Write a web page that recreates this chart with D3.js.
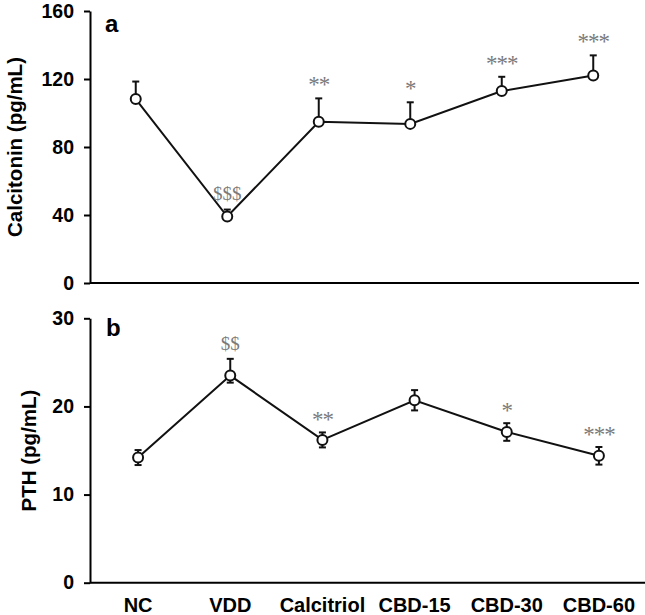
<!DOCTYPE html>
<html>
<head>
<meta charset="utf-8">
<script src="https://cdn.jsdelivr.net/npm/d3@7"></script>
<style>
  html, body { margin: 0; padding: 0; background: #fff; }
  svg { display: block; }
</style>
</head>
<body>
<svg id="chart" width="645" height="615"></svg>
<script>
// ---- data ----
const categories = ["NC", "VDD", "Calcitriol", "CBD-15", "CBD-30", "CBD-60"];

const calcitonin = [108.2, 39.1, 94.8, 93.6, 112.9, 122.0];
const calcitoninErrUp = [10.3, 4.1, 13.8, 12.7, 8.4, 11.9];
const calcitoninErrDown = [0, 0, 0, 0, 0, 0];
const calcitoninSig = ["", "$$$", "**", "*", "***", "***"];
const calcitoninTicks = [0, 40, 80, 120, 160];

const pth = [14.2, 23.5, 16.2, 20.7, 17.1, 14.4];
const pthErrUp = [0.85, 1.9, 0.85, 1.15, 1.0, 1.0];
const pthErrDown = [0.85, 0.8, 0.85, 1.15, 1.0, 1.0];
const pthSig = ["", "$$", "**", "", "*", "***"];
const pthTicks = [0, 10, 20, 30];

// ---- drawing ----
const svg = d3.select("#chart");
const SANS = "'Liberation Sans', Arial, Helvetica, sans-serif";
const SERIF = "'Liberation Serif', 'Times New Roman', serif";

function panel(cfg) {
  const g = svg.append("g");
  const x = d3.scalePoint().domain(categories).range(cfg.xRange).padding(0.5);
  const y = d3.scaleLinear().domain([0, d3.max(cfg.ticks)]).range(cfg.yRange);

  // y axis
  const yAxis = d3.axisLeft(y).tickValues(cfg.ticks).tickSizeOuter(0).tickSizeInner(6).tickPadding(10);
  const ya = g.append("g").attr("transform", `translate(${cfg.axisX},0)`).call(yAxis);
  ya.select(".domain").attr("stroke", "#000").attr("stroke-width", 2);
  ya.selectAll(".tick line").attr("stroke", "#000").attr("stroke-width", 2);
  ya.selectAll(".tick text")
    .attr("font-family", SANS).attr("font-size", 19.5).attr("font-weight", "bold").attr("fill", "#000");

  // x axis line (no ticks)
  const xa = g.append("g").attr("transform", `translate(0,${y(0)})`)
    .call(d3.axisBottom(x).tickSize(0).tickFormat(""));
  xa.select(".domain").attr("d", `M${cfg.axisX},0H${cfg.axisEnd}`)
    .attr("stroke", "#000").attr("stroke-width", 2);

  // category labels
  if (cfg.showCategories) {
    g.selectAll("text.cat").data(categories).join("text")
      .attr("class", "cat")
      .attr("x", d => x(d)).attr("y", 612)
      .attr("text-anchor", "middle")
      .attr("font-family", SANS).attr("font-size", 20).attr("font-weight", "bold")
      .text(d => d);
  }

  const data = categories.map((c, i) => ({
    c, v: cfg.values[i], up: cfg.errUp[i], down: cfg.errDown[i], sig: cfg.sig[i]
  }));

  // error bars
  const eb = g.selectAll("g.eb").data(data).join("g").attr("class", "eb");
  eb.append("line")
    .attr("x1", d => x(d.c)).attr("x2", d => x(d.c))
    .attr("y1", d => y(d.v - d.down)).attr("y2", d => y(d.v + d.up))
    .attr("stroke", "#111").attr("stroke-width", 2);
  eb.append("line")
    .attr("x1", d => x(d.c) - 3.5).attr("x2", d => x(d.c) + 3.5)
    .attr("y1", d => y(d.v + d.up)).attr("y2", d => y(d.v + d.up))
    .attr("stroke", "#111").attr("stroke-width", 2);
  eb.filter(d => d.down > 0).append("line")
    .attr("x1", d => x(d.c) - 3.5).attr("x2", d => x(d.c) + 3.5)
    .attr("y1", d => y(d.v - d.down)).attr("y2", d => y(d.v - d.down))
    .attr("stroke", "#111").attr("stroke-width", 2);

  // line
  g.append("path").datum(data)
    .attr("d", d3.line().x(d => x(d.c)).y(d => y(d.v)))
    .attr("fill", "none").attr("stroke", "#111").attr("stroke-width", 2);

  // markers
  g.selectAll("circle.pt").data(data).join("circle")
    .attr("class", "pt")
    .attr("cx", d => x(d.c)).attr("cy", d => y(d.v)).attr("r", 5)
    .attr("fill", "#fff").attr("stroke", "#111").attr("stroke-width", 2);

  // significance marks
  g.selectAll("text.sig").data(data.filter(d => d.sig)).join("text")
    .attr("class", "sig")
    .attr("x", d => x(d.c))
    .attr("y", d => y(d.v + d.up) - cfg.sigGap + (d.sig[0] === "$" ? 7 : 11))
    .attr("text-anchor", "middle")
    .attr("font-family", SERIF)
    .attr("font-size", d => d.sig[0] === "$" ? 19 : 23)
    .attr("letter-spacing", d => d.sig[0] === "$" ? 0 : -1)
    .attr("fill", "#7a7a7a")
    .text(d => d.sig);

  // panel letter
  g.append("text")
    .attr("x", cfg.letterX).attr("y", cfg.letterY)
    .attr("font-family", SANS).attr("font-size", 24).attr("font-weight", "bold")
    .text(cfg.letter);

  // y title
  g.append("text")
    .attr("transform", `translate(${cfg.titleX},${(cfg.yRange[0] + cfg.yRange[1]) / 2}) rotate(-90)`)
    .attr("text-anchor", "middle")
    .attr("font-family", SANS).attr("font-size", 20.5).attr("font-weight", "bold")
    .text(cfg.title);
}

panel({
  values: calcitonin, errUp: calcitoninErrUp, errDown: calcitoninErrDown, sig: calcitoninSig,
  ticks: calcitoninTicks, xRange: [90, 639], yRange: [283, 11], axisX: 90, axisEnd: 639,
  letter: "a", letterX: 105, letterY: 32, title: "Calcitonin (pg/mL)", titleX: 22,
  sigGap: 17, showCategories: false
});

panel({
  values: pth, errUp: pthErrUp, errDown: pthErrDown, sig: pthSig,
  ticks: pthTicks, xRange: [92, 645], yRange: [582.7, 318.3], axisX: 90, axisEnd: 645,
  letter: "b", letterX: 106, letterY: 336, title: "PTH (pg/mL)", titleX: 36,
  sigGap: 16, showCategories: true
});
</script>
</body>
</html>
